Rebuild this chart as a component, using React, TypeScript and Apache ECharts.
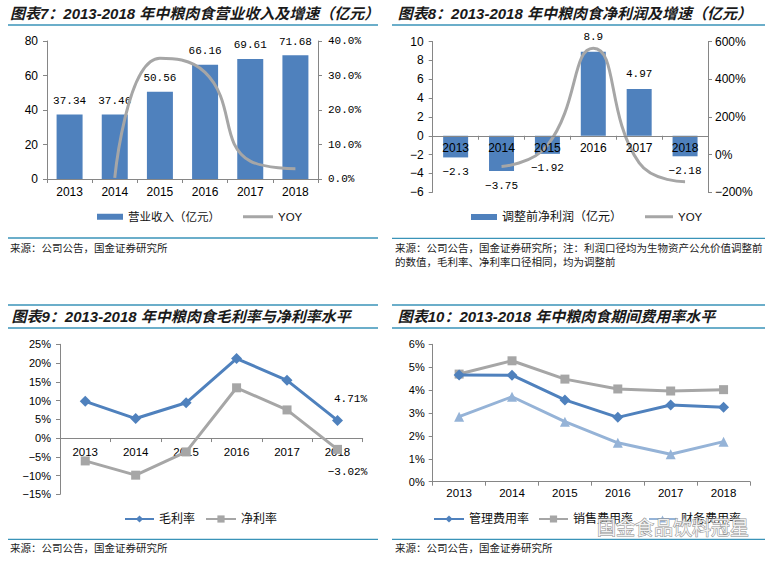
import React, { useEffect, useRef } from 'react';
import * as echarts from 'echarts';

const years = ['2013', '2014', '2015', '2016', '2017', '2018'];
const revenue = [37.34, 37.46, 50.56, 66.16, 69.61, 71.68];
const revenueYoy = [null, 0.3, 35.0, 30.9, 5.2, 3.0];
const profit = [-2.3, -3.75, -1.92, 8.9, 4.97, -2.18];
const profitYoy = [null, -63, 49, 564, -44, -144];
const grossMargin = [9.8, 5.2, 9.4, 21.2, 15.4, 4.71];
const netMargin = [-6.1, -9.9, -3.7, 13.4, 7.5, -3.02];
const adminRate = [4.66, 4.65, 3.57, 2.81, 3.35, 3.25];
const salesRate = [4.7, 5.28, 4.48, 4.05, 3.96, 4.02];
const financeRate = [2.84, 3.71, 2.62, 1.7, 1.2, 1.75];

const titles = [
  '图表7：2013-2018 年中粮肉食营业收入及增速（亿元）',
  '图表8：2013-2018 年中粮肉食净利润及增速（亿元）',
  '图表9：2013-2018 年中粮肉食毛利率与净利率水平',
  '图表10：2013-2018 年中粮肉食期间费用率水平',
];
const sourceText = '来源：公司公告，国金证券研究所';
const sourceText2 = '来源：公司公告，国金证券研究所；注：利润口径均为生物资产公允价值调整前';
const sourceText2b = '的数值，毛利率、净利率口径相同，均为调整前';
const watermark = '国金食品饮料冠星';

// axis ranges
const p2Left = { min: -6, max: 10, interval: 2 };
const p2Right = { min: -200, max: 600, interval: 200 };
const p3Axis = { min: -15, max: 25, interval: 5 };

const BLUE = '#4f81bd';
const GRAY = '#a6a6a6';
const LIGHT = '#95b3d7';
const AXIS = '#868686';
const SEP = '#3a93b8';
const LATIN = '"Liberation Sans", "Noto Sans CJK SC", sans-serif';
const MONO = '"Liberation Mono", monospace';
const CJK = '"Liberation Sans", "Noto Sans CJK SC", sans-serif';

const GRIDS = [
  { left: 47, top: 41, width: 271, height: 138 },
  { left: 432.7, top: 41.5, width: 275.3, height: 150.8 },
  { left: 60, top: 344.3, width: 302.7, height: 150 },
  { left: 432.7, top: 344.3, width: 317.3, height: 137.4 },
];

// shift of the category axis from the grid bottom to the value axis zero
const zeroShift = (gridH: number, min: number, max: number) => -(gridH * (0 - min)) / (max - min);

const minus = (s: string) => s.replace('-', '−');

function xAxisBase(grid: number, extra: any = {}) {
  return {
    type: 'category',
    gridIndex: grid,
    data: years,
    axisLine: { show: true, onZero: false, lineStyle: { color: AXIS, width: 1 } },
    axisTick: { show: true, length: 4, lineStyle: { color: AXIS } },
    axisLabel: { color: '#000', fontFamily: LATIN, fontSize: 12, margin: 7 },
    splitLine: { show: false },
    ...extra,
  };
}

function yAxisBase(grid: number, min: number, max: number, interval: number, extra: any = {}) {
  return {
    type: 'value',
    gridIndex: grid,
    min,
    max,
    interval,
    axisLine: { show: true, lineStyle: { color: AXIS, width: 1 } },
    axisTick: { show: true, length: 4, lineStyle: { color: AXIS } },
    splitLine: { show: false },
    ...extra,
  };
}

function legendItem(name: string, left: number, cy: number, w: number, h: number, fs: number, icon?: string) {
  return {
    data: [icon ? { name, icon } : { name }],
    left,
    top: cy - 7,
    padding: 0,
    itemWidth: w,
    itemHeight: h,
    itemGap: 0,
    selectedMode: false,
    textStyle: { fontFamily: CJK, fontSize: fs, color: '#111' },
  };
}

function titleText(text: string, x: number, y: number) {
  return {
    type: 'text',
    x,
    y,
    style: {
      text,
      fill: '#1a1a1a',
      fontFamily: LATIN,
      fontSize: 15,
      fontWeight: 'bold',
      fontStyle: 'italic',
      verticalAlign: 'middle',
    },
  };
}

function sepLine(x1: number, x2: number, y: number) {
  return {
    type: 'line',
    shape: { x1, y1: y, x2, y2: y },
    style: { stroke: SEP, lineWidth: 1.3 },
  };
}

function srcText(text: string, x: number, y: number) {
  return {
    type: 'text',
    x,
    y,
    style: { text, fill: '#222', fontFamily: CJK, fontSize: 10.5, verticalAlign: 'middle' },
  };
}

export default function App() {
  const ref = useRef<HTMLDivElement>(null);
  useEffect(() => {
    if (!ref.current) return;
    const chart = echarts.init(ref.current, null, { renderer: 'svg' });
    const option: any = {
      animation: false,
      backgroundColor: '#fff',
      grid: GRIDS,
      xAxis: [
        xAxisBase(0),
        xAxisBase(1, {
          offset: zeroShift(GRIDS[1].height, p2Left.min, p2Left.max),
          axisLabel: { color: '#000', fontFamily: LATIN, fontSize: 12, margin: 6 },
          z: 10,
        }),
        xAxisBase(2, {
          offset: zeroShift(GRIDS[2].height, p3Axis.min, p3Axis.max),
          axisLabel: { color: '#000', fontFamily: LATIN, fontSize: 11.5, margin: 8 },
        }),
        xAxisBase(3, { axisLabel: { color: '#000', fontFamily: LATIN, fontSize: 11.5, margin: 6 } }),
      ],
      yAxis: [
        yAxisBase(0, 0, 80, 20, {
          position: 'left',
          axisLabel: { color: '#000', fontFamily: LATIN, fontSize: 12, margin: 9 },
        }),
        yAxisBase(0, 0, 40, 10, {
          position: 'right',
          axisLabel: {
            color: '#000',
            fontFamily: MONO,
            fontSize: 11,
            margin: 10,
            formatter: (v: number) => v.toFixed(1) + '%',
          },
        }),
        yAxisBase(1, p2Left.min, p2Left.max, p2Left.interval, {
          position: 'left',
          axisLabel: {
            color: '#000',
            fontFamily: LATIN,
            fontSize: 12,
            margin: 9,
            formatter: (v: number) => minus(String(v)),
          },
        }),
        yAxisBase(1, p2Right.min, p2Right.max, p2Right.interval, {
          position: 'right',
          axisLabel: {
            color: '#000',
            fontFamily: LATIN,
            fontSize: 12,
            margin: 7,
            formatter: (v: number) => minus(String(v)) + '%',
          },
        }),
        yAxisBase(2, p3Axis.min, p3Axis.max, p3Axis.interval, {
          position: 'left',
          axisLabel: {
            color: '#000',
            fontFamily: LATIN,
            fontSize: 11,
            margin: 9,
            formatter: (v: number) => minus(String(v)) + '%',
          },
        }),
        yAxisBase(3, 0, 6, 1, {
          position: 'left',
          axisLabel: {
            color: '#000',
            fontFamily: LATIN,
            fontSize: 11,
            margin: 8,
            formatter: (v: number) => v + '%',
          },
        }),
      ],
      legend: [
        legendItem('营业收入（亿元）', 97, 218, 26, 6, 11.5, 'rect'),
        legendItem('YOY', 243, 218, 30, 3, 11.5, 'rect'),
        legendItem('调整前净利润（亿元）', 471, 218, 26, 6, 12, 'rect'),
        legendItem('YOY', 645, 218, 28, 3, 11.5, 'rect'),
        legendItem('毛利率', 124, 520, 29, 9, 12),
        legendItem('净利率', 205, 520, 30, 9, 12),
        legendItem('管理费用率', 433, 520, 30, 9, 12),
        legendItem('销售费用率', 538, 520, 29, 9, 12),
        legendItem('财务费用率', 648, 520, 27, 9, 12),
      ],
      series: [
        {
          type: 'bar',
          name: '营业收入（亿元）',
          xAxisIndex: 0,
          yAxisIndex: 0,
          data: revenue,
          barWidth: 26,
          itemStyle: { color: BLUE },
          label: {
            show: true,
            position: 'top',
            distance: 8,
            color: '#000',
            fontFamily: MONO,
            fontSize: 11,
          },
        },
        {
          type: 'line',
          name: 'YOY',
          xAxisIndex: 0,
          yAxisIndex: 1,
          data: revenueYoy,
          smooth: true,
          symbol: 'none',
          itemStyle: { color: GRAY },
          lineStyle: { color: GRAY, width: 3 },
          z: 3,
        },
        {
          type: 'bar',
          name: '调整前净利润（亿元）',
          xAxisIndex: 1,
          yAxisIndex: 2,
          data: profit.map((v) => ({
            value: v,
            label: { position: v < 0 ? 'bottom' : 'top' },
          })),
          barWidth: 25,
          itemStyle: { color: BLUE },
          label: {
            show: true,
            distance: 9,
            color: '#000',
            fontFamily: MONO,
            fontSize: 11,
            formatter: (p: any) => minus(String(p.value)),
          },
        },
        {
          type: 'line',
          name: 'YOY',
          xAxisIndex: 1,
          yAxisIndex: 3,
          data: profitYoy,
          smooth: true,
          symbol: 'none',
          itemStyle: { color: GRAY },
          lineStyle: { color: GRAY, width: 3 },
          z: 3,
        },
        {
          type: 'line',
          name: '毛利率',
          xAxisIndex: 2,
          yAxisIndex: 4,
          data: grossMargin.map((v, i) => ({
            value: v,
            label:
              i === grossMargin.length - 1
                ? { show: true, position: 'top', distance: 10, offset: [13, 0] }
                : { show: false },
          })),
          symbol: 'diamond',
          symbolSize: 11,
          itemStyle: { color: BLUE },
          lineStyle: { color: BLUE, width: 3 },
          label: {
            color: '#000',
            fontFamily: MONO,
            fontSize: 11,
            formatter: (p: any) => minus(p.value.toFixed(2)) + '%',
          },
          z: 4,
        },
        {
          type: 'line',
          name: '净利率',
          xAxisIndex: 2,
          yAxisIndex: 4,
          data: netMargin.map((v, i) => ({
            value: v,
            label:
              i === netMargin.length - 1
                ? { show: true, position: 'bottom', distance: 13, offset: [10, 0] }
                : { show: false },
          })),
          symbol: 'rect',
          symbolSize: 9,
          itemStyle: { color: GRAY },
          lineStyle: { color: GRAY, width: 3 },
          label: {
            color: '#000',
            fontFamily: MONO,
            fontSize: 11,
            formatter: (p: any) => minus(p.value.toFixed(2)) + '%',
          },
          z: 3,
        },
        {
          type: 'line',
          name: '管理费用率',
          xAxisIndex: 3,
          yAxisIndex: 5,
          data: adminRate,
          symbol: 'diamond',
          symbolSize: 11,
          itemStyle: { color: BLUE },
          lineStyle: { color: BLUE, width: 3 },
          z: 4,
        },
        {
          type: 'line',
          name: '销售费用率',
          xAxisIndex: 3,
          yAxisIndex: 5,
          data: salesRate,
          symbol: 'rect',
          symbolSize: 9,
          itemStyle: { color: GRAY },
          lineStyle: { color: GRAY, width: 3 },
          z: 3,
        },
        {
          type: 'line',
          name: '财务费用率',
          xAxisIndex: 3,
          yAxisIndex: 5,
          data: financeRate,
          symbol: 'triangle',
          symbolSize: 10,
          itemStyle: { color: LIGHT },
          lineStyle: { color: LIGHT, width: 3 },
          z: 3,
        },
      ],
      graphic: [
        titleText(titles[0], 10, 13),
        titleText(titles[1], 397.7, 13),
        titleText(titles[2], 11.5, 316.7),
        titleText(titles[3], 397.7, 316.7),
        sepLine(8, 378, 25),
        sepLine(392, 765, 25),
        sepLine(8, 378, 305),
        sepLine(8, 378, 328),
        sepLine(392, 765, 305),
        sepLine(392, 765, 328),
        sepLine(8, 378, 238),
        sepLine(392, 765, 238.3),
        sepLine(8, 378, 539.3),
        sepLine(392, 765, 539.3),
        srcText(sourceText, 10, 248),
        srcText(sourceText2, 395, 248.3),
        srcText(sourceText2b, 395, 261.7),
        srcText(sourceText, 10, 548),
        srcText(sourceText, 395, 548),
        {
          type: 'text',
          x: 597,
          y: 528,
          z: 100,
          style: {
            text: watermark,
            fill: 'rgba(255,255,255,0.85)',
            stroke: '#8f8f8f',
            lineWidth: 1,
            fontFamily: CJK,
            fontSize: 19,
            verticalAlign: 'middle',
          },
        },
      ],
    };
    chart.setOption(option);
    return () => chart.dispose();
  }, []);
  return (
    <div
      ref={ref}
      style={{ position: 'fixed', left: 0, top: 0, width: 771, height: 562, background: '#fff' }}
    />
  );
}
